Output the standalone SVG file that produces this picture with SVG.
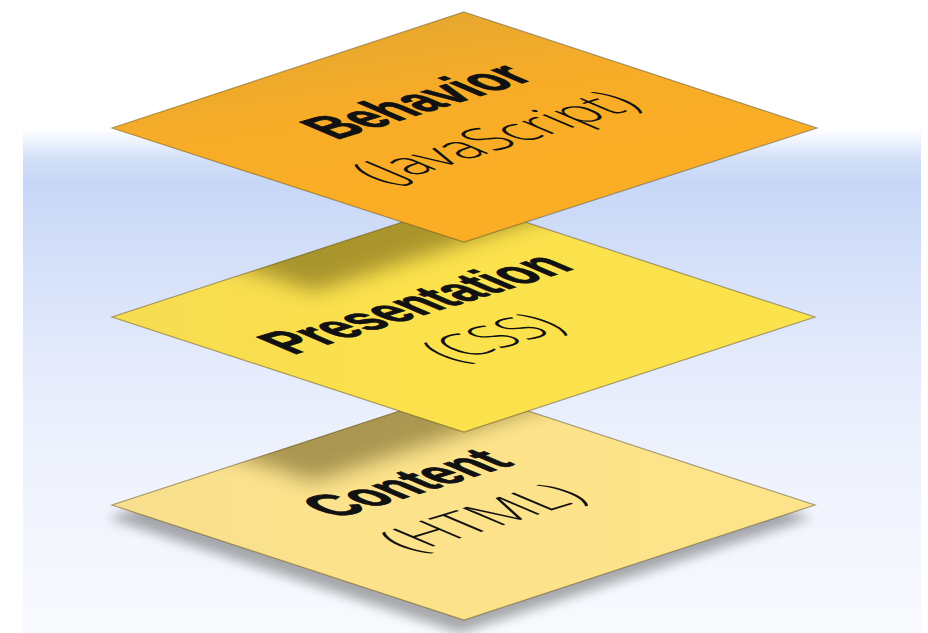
<svg xmlns="http://www.w3.org/2000/svg" width="928" height="633" viewBox="0 0 928 633">
<defs>
<linearGradient id="bg" gradientUnits="userSpaceOnUse" x1="0" y1="128" x2="0" y2="633">
<stop offset="0" stop-color="#ffffff"/>
<stop offset="0.025" stop-color="#eef3fd"/>
<stop offset="0.065" stop-color="#d1def8"/>
<stop offset="0.11" stop-color="#c7d7f7"/>
<stop offset="0.25" stop-color="#d3dff9"/>
<stop offset="0.45" stop-color="#e3eafb"/>
<stop offset="0.65" stop-color="#eef2fd"/>
<stop offset="1" stop-color="#f8fafe"/>
</linearGradient>
<linearGradient id="gOrange" x1="0.3" y1="0" x2="0.65" y2="0.7">
<stop offset="0" stop-color="#e2a730"/>
<stop offset="0.5" stop-color="#f7ac28"/>
<stop offset="1" stop-color="#fbae25"/>
</linearGradient>
<linearGradient id="gYellow" x1="0" y1="0.5" x2="1" y2="0.5">
<stop offset="0" stop-color="#f6dc52"/>
<stop offset="0.4" stop-color="#fbe14c"/>
<stop offset="1" stop-color="#fce24b"/>
</linearGradient>
<linearGradient id="gPale" x1="0" y1="0.5" x2="1" y2="0.5">
<stop offset="0" stop-color="#f8df8e"/>
<stop offset="0.4" stop-color="#fce38b"/>
<stop offset="1" stop-color="#fde48a"/>
</linearGradient>
<filter id="blur9" x="-30%" y="-30%" width="160%" height="160%"><feGaussianBlur stdDeviation="10"/></filter>
<filter id="blur6" x="-20%" y="-30%" width="140%" height="160%"><feGaussianBlur stdDeviation="6"/></filter>
<clipPath id="clipMid"><polygon points="464,202 815,317 464,432 112,317"/></clipPath>
<clipPath id="clipBot"><polygon points="464,390 815,505 464,620 112,505"/></clipPath>
</defs>
<style>
.plane{stroke:#6b5a2a;stroke-opacity:.55;stroke-width:1.2}
.shadow{fill:#3a2e00;opacity:.42}
.title{font-family:"Liberation Sans",Arial,sans-serif;font-weight:bold;font-size:49px;fill:#111;stroke:#111;stroke-width:1}
.sub{font-family:"Open Sans","Liberation Sans",sans-serif;font-weight:300;font-size:48px;fill:#111}
</style>
<g id="background">
<rect x="0" y="0" width="928" height="633" fill="#ffffff"/>
<rect x="23" y="128" width="898" height="505" fill="url(#bg)"/>
</g>
<g id="layer-content">
<polygon points="460,403 811,518 460,633 108,518" fill="#000" opacity="0.32" filter="url(#blur6)"/>
<polygon class="plane" points="464,390 815,505 464,620 112,505" fill="url(#gPale)"/>
<g clip-path="url(#clipBot)"><polygon class="shadow" points="314,251 665,366 314,481 -38,366" filter="url(#blur9)"/></g>
<text class="title" transform="matrix(0.956,-0.292,1.18,0.5,336,519)" textLength="188" lengthAdjust="spacingAndGlyphs">Content</text>
<text class="sub" transform="matrix(0.956,-0.292,1.18,0.5,412,553)" textLength="186" lengthAdjust="spacingAndGlyphs">(HTML)</text>
</g>
<g id="layer-presentation">
<polygon class="plane" points="464,202 815,317 464,432 112,317" fill="url(#gYellow)"/>
<g clip-path="url(#clipMid)"><polygon class="shadow" points="314,61 667,177 314,291 -38,177" filter="url(#blur9)"/></g>
<text class="title" transform="matrix(0.956,-0.292,1.18,0.5,293,355)" textLength="296" lengthAdjust="spacingAndGlyphs">Presentation</text>
<text class="sub" transform="matrix(0.956,-0.292,1.18,0.5,455,363)" textLength="118" lengthAdjust="spacingAndGlyphs">(CSS)</text>
</g>
<g id="layer-behavior">
<polygon class="plane" points="464,12 817,128 464,242 112,128" fill="url(#gOrange)"/>
<text class="title" transform="matrix(0.956,-0.292,1.18,0.5,336,140)" textLength="210" lengthAdjust="spacingAndGlyphs">Behavior</text>
<text class="sub" transform="matrix(0.956,-0.292,1.18,0.5,385,185)" textLength="270" lengthAdjust="spacingAndGlyphs">(JavaScript)</text>
</g>
<g id="connectors"/>
</svg>
